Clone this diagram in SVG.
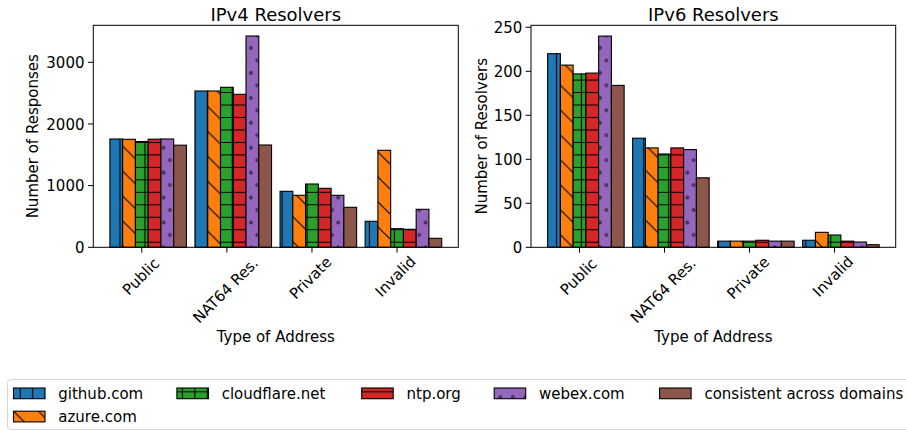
<svg xmlns="http://www.w3.org/2000/svg" width="906" height="431" viewBox="0 0 906 431">
<defs>
<style>
.t{font-family:"DejaVu Sans","Liberation Sans",sans-serif;font-size:15px;fill:#000}
.ti{font-size:18px}
.m{text-anchor:middle}
.en{text-anchor:end}
.fr{fill:none;stroke:#000;stroke-width:1}
.tk{stroke:#000;stroke-width:1}
.c0{fill:#1f77b4}.c1{fill:#ff7f0e}.c2{fill:#2ca02c}.c3{fill:#d62728}.c4{fill:#9467bd}
.c5{fill:#8c564b;stroke:#000;stroke-width:1.1}
.h0{fill:url(#hv);stroke:#000;stroke-width:1.1}
.h1{fill:url(#hd);stroke:#000;stroke-width:1.1}
.h2{fill:url(#hp);stroke:#000;stroke-width:1.1}
.h3{fill:url(#hh);stroke:#000;stroke-width:1.1}
.h4{fill:url(#ho);stroke:#000;stroke-width:1.1}
.hl{stroke:#000;stroke-width:1.1;fill:none}
</style>
<pattern id="hv" patternUnits="userSpaceOnUse" x="1.535" y="0" width="12.47" height="12.47"><line class="hl" x1="6.235" y1="-1" x2="6.235" y2="13.47"/></pattern>
<pattern id="hh" patternUnits="userSpaceOnUse" x="0" y="-0.965" width="12.47" height="12.47"><line class="hl" x1="-1" y1="6.235" x2="13.47" y2="6.235"/></pattern>
<pattern id="hp" patternUnits="userSpaceOnUse" x="1.535" y="-0.965" width="12.47" height="12.47"><path class="hl" d="M6.235,-1V13.47M-1,6.235H13.47"/></pattern>
<pattern id="hd" patternUnits="userSpaceOnUse" x="0" y="23.5" width="24.94" height="24.94"><path class="hl" d="M-2,-2L26.94,26.94M-2,22.94L2,26.94M22.94,-2L26.94,2"/></pattern>
<pattern id="ho" patternUnits="userSpaceOnUse" x="1.535" y="16.765" width="12.47" height="24.94"><g fill="none" stroke="#000" stroke-width="0.9"><circle cx="6.235" cy="18.705" r="1.3"/><circle cx="0" cy="6.235" r="1.3"/><circle cx="12.47" cy="6.235" r="1.3"/></g></pattern>
</defs>
<rect width="906" height="431" fill="#fff"/>

<g id="ipv4-chart">
<text class="t ti m" x="275.8" y="20.7">IPv4 Resolvers</text>
<g id="ipv4-github">
<rect class="c0" x="109.9" y="139" width="12.76" height="108.3"/><rect class="c0" x="194.98" y="91" width="12.76" height="156.3"/><rect class="c0" x="280.06" y="191.3" width="12.76" height="56"/><rect class="c0" x="365.14" y="221.3" width="12.76" height="26"/>
<rect class="h0" x="109.9" y="139" width="12.76" height="108.3"/><rect class="h0" x="194.98" y="91" width="12.76" height="156.3"/><rect class="h0" x="280.06" y="191.3" width="12.76" height="56"/><rect class="h0" x="365.14" y="221.3" width="12.76" height="26"/>
</g>
<g id="ipv4-azure">
<rect class="c1" x="122.66" y="139.3" width="12.76" height="108"/><rect class="c1" x="207.74" y="91" width="12.76" height="156.3"/><rect class="c1" x="292.82" y="195.3" width="12.76" height="52"/><rect class="c1" x="377.9" y="150.3" width="12.76" height="97"/>
<rect class="h1" x="122.66" y="139.3" width="12.76" height="108"/><rect class="h1" x="207.74" y="91" width="12.76" height="156.3"/><rect class="h1" x="292.82" y="195.3" width="12.76" height="52"/><rect class="h1" x="377.9" y="150.3" width="12.76" height="97"/>
</g>
<g id="ipv4-cloudflare">
<rect class="c2" x="135.42" y="141.5" width="12.76" height="105.8"/><rect class="c2" x="220.5" y="87.3" width="12.76" height="160"/><rect class="c2" x="305.58" y="184" width="12.76" height="63.3"/><rect class="c2" x="390.66" y="228.7" width="12.76" height="18.6"/>
<rect class="h2" x="135.42" y="141.5" width="12.76" height="105.8"/><rect class="h2" x="220.5" y="87.3" width="12.76" height="160"/><rect class="h2" x="305.58" y="184" width="12.76" height="63.3"/><rect class="h2" x="390.66" y="228.7" width="12.76" height="18.6"/>
</g>
<g id="ipv4-ntp">
<rect class="c3" x="148.18" y="139.2" width="12.76" height="108.1"/><rect class="c3" x="233.26" y="94.3" width="12.76" height="153"/><rect class="c3" x="318.34" y="188.3" width="12.76" height="59"/><rect class="c3" x="403.42" y="229.3" width="12.76" height="18"/>
<rect class="h3" x="148.18" y="139.2" width="12.76" height="108.1"/><rect class="h3" x="233.26" y="94.3" width="12.76" height="153"/><rect class="h3" x="318.34" y="188.3" width="12.76" height="59"/><rect class="h3" x="403.42" y="229.3" width="12.76" height="18"/>
</g>
<g id="ipv4-webex">
<rect class="c4" x="160.94" y="139" width="12.76" height="108.3"/><rect class="c4" x="246.02" y="36" width="12.76" height="211.3"/><rect class="c4" x="331.1" y="195.3" width="12.76" height="52"/><rect class="c4" x="416.18" y="209.3" width="12.76" height="38"/>
<rect class="h4" x="160.94" y="139" width="12.76" height="108.3"/><rect class="h4" x="246.02" y="36" width="12.76" height="211.3"/><rect class="h4" x="331.1" y="195.3" width="12.76" height="52"/><rect class="h4" x="416.18" y="209.3" width="12.76" height="38"/>
</g>
<g id="ipv4-consistent">
<rect class="c5" x="173.7" y="145.2" width="12.76" height="102.1"/><rect class="c5" x="258.78" y="145" width="12.76" height="102.3"/><rect class="c5" x="343.86" y="207.3" width="12.76" height="40"/><rect class="c5" x="428.94" y="238.3" width="12.76" height="9"/>
</g>
<rect class="fr" x="93.3" y="25.3" width="365" height="222"/>
<g id="ipv4-yaxis">
<path class="tk" d="M88,247.3H93.3M88,185.63H93.3M88,123.96H93.3M88,62.3H93.3"/>
<text class="t en" x="84.5" y="253.1">0</text>
<text class="t en" x="84.5" y="191.4">1000</text>
<text class="t en" x="84.5" y="129.8">2000</text>
<text class="t en" x="84.5" y="68.1">3000</text>
<text class="t m" transform="translate(38,136.3) rotate(-90)">Number of Responses</text>
</g>
<g id="ipv4-xaxis">
<path class="tk" d="M141.8,247.3V252.6M226.88,247.3V252.6M311.96,247.3V252.6M397.04,247.3V252.6"/>
<text class="t m" dominant-baseline="central" transform="rotate(-45 141 276.7)" x="141" y="276.7">Public</text>
<text class="t m" dominant-baseline="central" transform="rotate(-45 225.7 290.5)" x="225.7" y="290.5">NAT64 Res.</text>
<text class="t m" dominant-baseline="central" transform="rotate(-45 310.6 278)" x="310.6" y="278">Private</text>
<text class="t m" dominant-baseline="central" transform="rotate(-45 395.6 276.5)" x="395.6" y="276.5">Invalid</text>
<text class="t m" x="275.8" y="342">Type of Address</text>
</g>
</g>

<g id="ipv6-chart">
<text class="t ti m" x="713.4" y="20.7">IPv6 Resolvers</text>
<g id="ipv6-github">
<rect class="c0" x="547.63" y="53.7" width="12.75" height="193.6"/><rect class="c0" x="632.64" y="138.2" width="12.75" height="109.1"/><rect class="c0" x="717.65" y="241.14" width="12.75" height="6.16"/><rect class="c0" x="802.66" y="240.26" width="12.75" height="7.04"/>
<rect class="h0" x="547.63" y="53.7" width="12.75" height="193.6"/><rect class="h0" x="632.64" y="138.2" width="12.75" height="109.1"/><rect class="h0" x="717.65" y="241.14" width="12.75" height="6.16"/><rect class="h0" x="802.66" y="240.26" width="12.75" height="7.04"/>
</g>
<g id="ipv6-azure">
<rect class="c1" x="560.38" y="65.1" width="12.75" height="182.2"/><rect class="c1" x="645.39" y="147.9" width="12.75" height="99.4"/><rect class="c1" x="730.4" y="241.14" width="12.75" height="6.16"/><rect class="c1" x="815.41" y="232.34" width="12.75" height="14.96"/>
<rect class="h1" x="560.38" y="65.1" width="12.75" height="182.2"/><rect class="h1" x="645.39" y="147.9" width="12.75" height="99.4"/><rect class="h1" x="730.4" y="241.14" width="12.75" height="6.16"/><rect class="h1" x="815.41" y="232.34" width="12.75" height="14.96"/>
</g>
<g id="ipv6-cloudflare">
<rect class="c2" x="573.13" y="73.9" width="12.75" height="173.4"/><rect class="c2" x="658.14" y="154" width="12.75" height="93.3"/><rect class="c2" x="743.15" y="241.14" width="12.75" height="6.16"/><rect class="c2" x="828.16" y="235" width="12.75" height="12.3"/>
<rect class="h2" x="573.13" y="73.9" width="12.75" height="173.4"/><rect class="h2" x="658.14" y="154" width="12.75" height="93.3"/><rect class="h2" x="743.15" y="241.14" width="12.75" height="6.16"/><rect class="h2" x="828.16" y="235" width="12.75" height="12.3"/>
</g>
<g id="ipv6-ntp">
<rect class="c3" x="585.88" y="73.1" width="12.75" height="174.2"/><rect class="c3" x="670.89" y="147.9" width="12.75" height="99.4"/><rect class="c3" x="755.9" y="240.26" width="12.75" height="7.04"/><rect class="c3" x="840.91" y="241.14" width="12.75" height="6.16"/>
<rect class="h3" x="585.88" y="73.1" width="12.75" height="174.2"/><rect class="h3" x="670.89" y="147.9" width="12.75" height="99.4"/><rect class="h3" x="755.9" y="240.26" width="12.75" height="7.04"/><rect class="h3" x="840.91" y="241.14" width="12.75" height="6.16"/>
</g>
<g id="ipv6-webex">
<rect class="c4" x="598.63" y="36.1" width="12.75" height="211.2"/><rect class="c4" x="683.64" y="149.6" width="12.75" height="97.7"/><rect class="c4" x="768.65" y="241.14" width="12.75" height="6.16"/><rect class="c4" x="853.66" y="242.02" width="12.75" height="5.28"/>
<rect class="h4" x="598.63" y="36.1" width="12.75" height="211.2"/><rect class="h4" x="683.64" y="149.6" width="12.75" height="97.7"/><rect class="h4" x="768.65" y="241.14" width="12.75" height="6.16"/><rect class="h4" x="853.66" y="242.02" width="12.75" height="5.28"/>
</g>
<g id="ipv6-consistent">
<rect class="c5" x="611.38" y="85.4" width="12.75" height="161.9"/><rect class="c5" x="696.39" y="177.8" width="12.75" height="69.5"/><rect class="c5" x="781.4" y="241.14" width="12.75" height="6.16"/><rect class="c5" x="866.41" y="244.66" width="12.75" height="2.64"/>
</g>
<rect class="fr" x="531" y="25.3" width="364.7" height="222"/>
<g id="ipv6-yaxis">
<path class="tk" d="M525.7,247.3H531M525.7,203.3H531M525.7,159.3H531M525.7,115.3H531M525.7,71.3H531M525.7,27.3H531"/>
<text class="t en" x="522.3" y="253.1">0</text>
<text class="t en" x="522.3" y="209.1">50</text>
<text class="t en" x="522.3" y="165.1">100</text>
<text class="t en" x="522.3" y="121.1">150</text>
<text class="t en" x="522.3" y="77.1">200</text>
<text class="t en" x="522.3" y="33.1">250</text>
<text class="t m" transform="translate(486.5,136.3) rotate(-90)">Number of Resolvers</text>
</g>
<g id="ipv6-xaxis">
<path class="tk" d="M579.5,247.3V252.6M664.51,247.3V252.6M749.52,247.3V252.6M834.53,247.3V252.6"/>
<text class="t m" dominant-baseline="central" transform="rotate(-45 578.7 276.7)" x="578.7" y="276.7">Public</text>
<text class="t m" dominant-baseline="central" transform="rotate(-45 663.3 290.5)" x="663.3" y="290.5">NAT64 Res.</text>
<text class="t m" dominant-baseline="central" transform="rotate(-45 748.2 278)" x="748.2" y="278">Private</text>
<text class="t m" dominant-baseline="central" transform="rotate(-45 833.1 276.5)" x="833.1" y="276.5">Invalid</text>
<text class="t m" x="713.4" y="342">Type of Address</text>
</g>
</g>

<g id="legend">
<rect x="7.5" y="379.5" width="910" height="50" rx="3" fill="#fff" stroke="#d6d6d6" stroke-width="1"/>
<g id="legend-github"><rect class="c0" x="13.5" y="388" width="31.5" height="10.7"/><rect class="h0" x="13.5" y="388" width="31.5" height="10.7"/><text class="t" x="58.3" y="398.8">github.com</text></g>
<g id="legend-azure"><rect class="c1" x="13.5" y="411.2" width="31.5" height="10.7"/><rect class="h1" x="13.5" y="411.2" width="31.5" height="10.7"/><text class="t" x="58.3" y="422">azure.com</text></g>
<g id="legend-cloudflare"><rect class="c2" x="176.9" y="388" width="31.5" height="10.7"/><rect class="h2" x="176.9" y="388" width="31.5" height="10.7"/><text class="t" x="221.7" y="398.8">cloudflare.net</text></g>
<g id="legend-ntp"><rect class="c3" x="361.7" y="388" width="31.5" height="10.7"/><rect class="h3" x="361.7" y="388" width="31.5" height="10.7"/><text class="t" x="406.5" y="398.8">ntp.org</text></g>
<g id="legend-webex"><rect class="c4" x="494.2" y="388" width="31.5" height="10.7"/><rect class="h4" x="494.2" y="388" width="31.5" height="10.7"/><text class="t" x="539" y="398.8">webex.com</text></g>
<g id="legend-consistent"><rect class="c5" x="659.6" y="388" width="31.5" height="10.7"/><text class="t" x="704.4" y="398.8">consistent across domains</text></g>
</g>
</svg>
